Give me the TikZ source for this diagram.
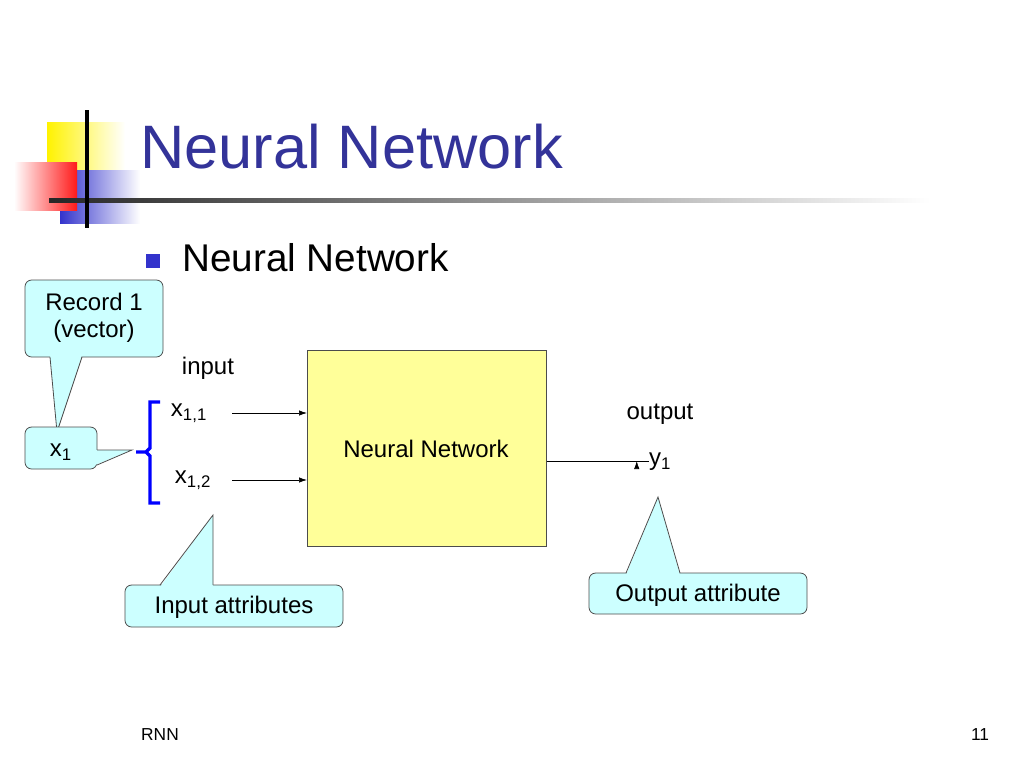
\documentclass[tikz,border=0pt]{standalone}
\usepackage{fontspec}
\setmainfont{Liberation Sans}
\usetikzlibrary{arrows.meta}
\definecolor{ttl}{HTML}{333399}
\definecolor{cfill}{HTML}{CCFFFF}
\definecolor{nnfill}{HTML}{FFFF99}
\definecolor{bul}{HTML}{3333CC}
\begin{document}
\begin{tikzpicture}[x=0.75pt,y=-0.75pt,
  lbl/.style={inner sep=0pt,font=\fontsize{18}{20}\selectfont},
  cbox/.style={fill=cfill,draw=black!70,rounded corners=5pt,line width=0.6pt},
  cptr/.style={draw=black!70,line width=0.6pt},
  arr/.style={-{Latex[length=6pt,width=4pt]},line width=0.5pt}]
\useasboundingbox (0,0) rectangle (1024,768);
% logo
\fill[left color=yellow!90!orange,right color=white] (47,122) rectangle (125,170);
\fill[left color=bul,right color=white] (60,170) rectangle (140,223);
\fill[left color=white,right color=red!90] (14,162) rectangle (77,210);
\fill[left color=black!85,right color=white] (49,198) rectangle (930,202);
\draw[line width=2.5pt] (87,110) -- (87,228);
\node[anchor=west,inner sep=0pt,text=ttl,font=\fontsize{46}{50}\selectfont] (title) at (140,147) {Neural Network};
% bullet
\fill[bul] (146,254) rectangle (160,268);
\node[anchor=west,inner sep=0pt,font=\fontsize{29}{32}\selectfont] (sub) at (182,258) {Neural Network};
% record callout
\fill[cfill] (50,355) -- (57,432) -- (82,355) -- cycle;
\draw[cbox] (25,280) rectangle (163,357);
\fill[cfill] (50,355) -- (57,432) -- (82,355) -- cycle;
\draw[cptr] (50,357) -- (57,432) -- (82,357);
\node[lbl,align=center] (rec) at (94,318) {Record 1\\(vector)};
% x1 callout
\draw[cbox] (25,427) rectangle (97,469);
\fill[cfill] (95,450) -- (132,450) -- (95,465) -- cycle;
\draw[cptr] (97,450) -- (132,450) -- (97,465);
\node[lbl] (x1) at (61,452) {x\textsubscript{1}};
% brace
\draw[blue,line width=2.5pt] (160,402) -- (150,402) -- (150,448) -- (146,452) -- (136,452)
  (146,452) -- (150,456) -- (150,503) -- (160,503);
\coordinate (brace) at (136,452);
% labels
\node[lbl] (input) at (208,368) {input};
\node[lbl] (x11) at (189,413) {x\textsubscript{1,1}};
\node[lbl] (x12) at (193,480) {x\textsubscript{1,2}};
\node[draw=black!70,fill=nnfill,minimum width=239*0.75pt,minimum height=196*0.75pt,inner sep=0pt,anchor=north west] (nn) at (307,350) {};
\node[lbl] (nnt) at (426,449) {Neural Network};
\draw[arr] (x11.east) ++(25,0) coordinate (a1) -- (a1 -| nn.west);
\draw[arr] (x12.east) ++(21,0) coordinate (a2) -- (a2 -| nn.west);
\node[lbl] (out) at (660,414) {output};
\node[lbl] (y1) at (660,462) {y\textsubscript{1}};
\draw[arr] (nn.east |- 0,461) -- (y1.west |- 0,461) ++(-12,0);
% input attributes callout
\draw[cbox] (125,585) rectangle (343,627);
\fill[cfill] (160,587) -- (213,515) -- (213,587) -- cycle;
\draw[cptr] (160,585) -- (213,515) -- (213,585);
\node[lbl] (ia) at (234,607) {Input attributes};
% output attribute callout
\draw[cbox] (589,573) rectangle (807,614);
\fill[cfill] (626,575) -- (658,497) -- (680,575) -- cycle;
\draw[cptr] (626,573) -- (658,497) -- (680,573);
\node[lbl] (oa) at (698,595) {Output attribute};
% footer
\node[inner sep=0pt,font=\fontsize{13}{15}\selectfont] (rnn) at (160,735) {RNN};
\node[inner sep=0pt,font=\fontsize{13}{15}\selectfont] (pg) at (980,735) {11};
\end{tikzpicture}
\end{document}
